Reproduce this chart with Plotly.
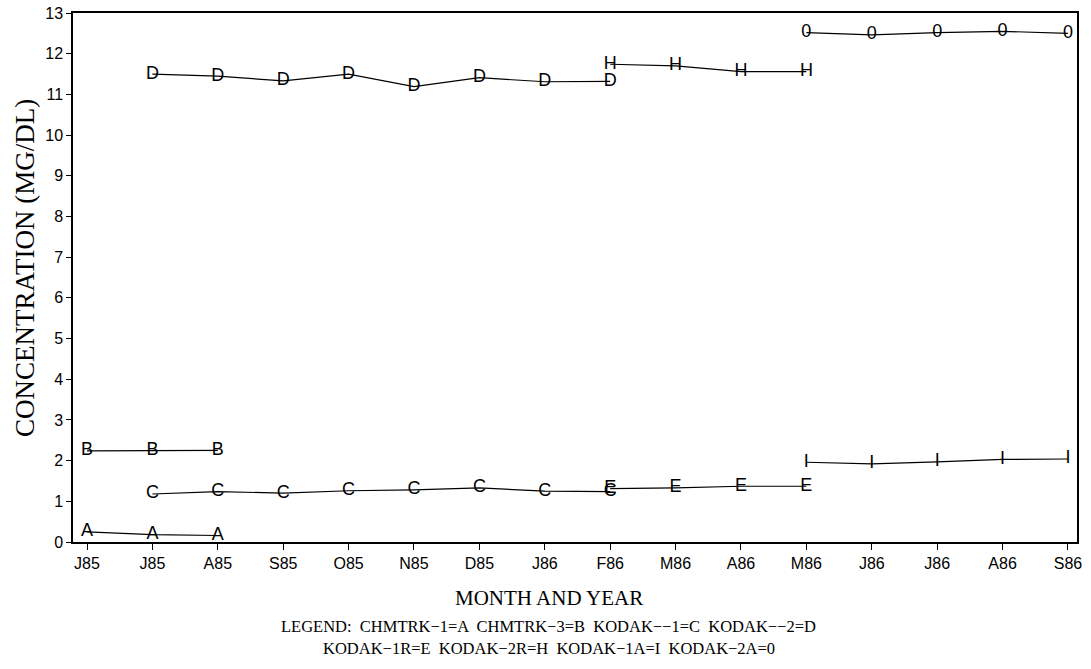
import plotly.graph_objects as go

# Month categories (x positions 0..15)
months = ["J85", "J85", "A85", "S85", "O85", "N85", "D85", "J86", "F86",
          "M86", "A86", "M86", "J86", "J86", "A86", "S86"]

# Series: x indices, values, marker letter
a_x = [0, 1, 2]
a_y = [0.25, 0.18, 0.16]
b_x = [0, 1, 2]
b_y = [2.24, 2.24, 2.25]
c_x = [1, 2, 3, 4, 5, 6, 7, 8]
c_y = [1.18, 1.24, 1.20, 1.26, 1.28, 1.33, 1.25, 1.24]
d_x = [1, 2, 3, 4, 5, 6, 7, 8]
d_y = [11.50, 11.45, 11.33, 11.50, 11.19, 11.41, 11.31, 11.32]
e_x = [8, 9, 10, 11]
e_y = [1.31, 1.33, 1.37, 1.37]
h_x = [8, 9, 10, 11]
h_y = [11.74, 11.70, 11.56, 11.56]
i_x = [11, 12, 13, 14, 15]
i_y = [1.96, 1.92, 1.97, 2.03, 2.04]
o_x = [11, 12, 13, 14, 15]
o_y = [12.52, 12.46, 12.52, 12.55, 12.50]

series = [
    (a_x, a_y, "A"), (b_x, b_y, "B"), (c_x, c_y, "C"), (d_x, d_y, "D"),
    (e_x, e_y, "E"), (h_x, h_y, "H"), (i_x, i_y, "I"), (o_x, o_y, "0"),
]

legend_line1 = "LEGEND:  CHMTRK−1=A  CHMTRK−3=B  KODAK−−1=C  KODAK−−2=D"
legend_line2 = "KODAK−1R=E  KODAK−2R=H  KODAK−1A=I  KODAK−2A=0"

sans = "Liberation Sans, Arial, sans-serif"
serif = "Liberation Serif, Times New Roman, serif"

fig = go.Figure()
for xs, ys, letter in series:
    fig.add_trace(go.Scatter(
        x=xs, y=ys, mode="lines+text", text=[letter] * len(xs),
        textposition="middle center",
        textfont=dict(family=sans, size=18, color="black"),
        line=dict(color="black", width=1.2),
        showlegend=False, hoverinfo="skip",
    ))

fig.update_layout(
    width=1091, height=669,
    margin=dict(l=73, r=14, t=13, b=127, autoexpand=False),
    paper_bgcolor="white", plot_bgcolor="white",
    font=dict(family=sans, color="black"),
)
fig.update_xaxes(
    range=[-0.214, 15.138], tickmode="array",
    tickvals=list(range(len(months))), ticktext=months, automargin=False,
    showgrid=False, zeroline=False, showline=True, linecolor="black", linewidth=1.5,
    mirror=True, ticks="outside", ticklen=6, tickcolor="black",
    tickfont=dict(size=16, family=sans),
)
fig.update_yaxes(
    range=[0, 13], tickmode="linear", tick0=0, dtick=1, automargin=False,
    showgrid=False, zeroline=False, showline=True, linecolor="black", linewidth=1.5,
    mirror=True, ticks="outside", ticklen=5, tickcolor="black",
    tickfont=dict(size=16, family=sans),
)

fig.add_annotation(text="CONCENTRATION (MG/DL)", xref="paper", yref="paper",
                   x=-0.0478, y=0.518, textangle=-90, showarrow=False,
                   font=dict(family=serif, size=27), xanchor="center", yanchor="middle")
fig.add_annotation(text="MONTH AND YEAR", xref="paper", yref="paper",
                   x=0.474, y=-0.106, showarrow=False,
                   font=dict(family=serif, size=21), xanchor="center", yanchor="middle")
fig.add_annotation(text=legend_line1, xref="paper", yref="paper",
                   x=0.474, y=-0.1588, showarrow=False,
                   font=dict(family=serif, size=16.5), xanchor="center", yanchor="middle")
fig.add_annotation(text=legend_line2, xref="paper", yref="paper",
                   x=0.474, y=-0.2004, showarrow=False,
                   font=dict(family=serif, size=16.5), xanchor="center", yanchor="middle")

fig.write_html("out.html", config={"displayModeBar": False},
               post_script="document.body.style.margin='0px';")
